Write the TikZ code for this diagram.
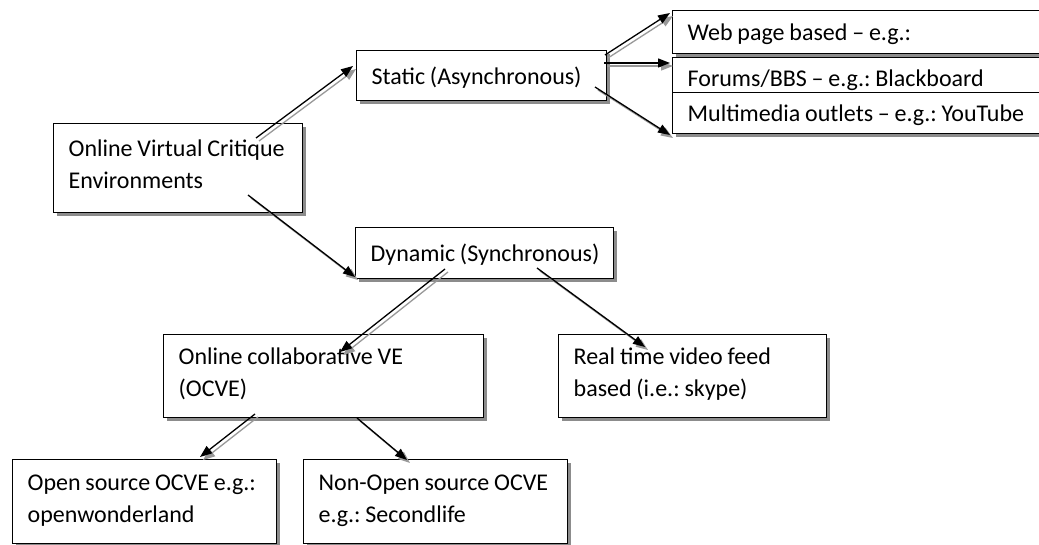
\documentclass[tikz,border=0pt]{standalone}
\usepackage{fontspec}
\setmainfont{Carlito}
\frenchspacing
\usetikzlibrary{arrows.meta,shadows,calc}
\newcommand{\firstst}{\rule{0pt}{17pt}}
\newcommand{\lastst}{\rule[-8pt]{0pt}{8pt}}
\newcommand{\tightsp}{\spaceskip=0.2em\relax}
\newcommand{\lineone}[1]{\mbox{\tightsp\firstst #1}}
\newcommand{\linetwo}[1]{\mbox{\tightsp #1\lastst}}
\newcommand{\oneline}[1]{\mbox{\tightsp #1}}
\begin{document}
\begin{tikzpicture}[x=1pt,y=-1pt,
  font=\fontsize{24}{32}\selectfont,
  boxbase/.style={draw=black, line width=1.3pt, fill=white, anchor=north west,
    inner xsep=15pt, inner ysep=0pt, align=left,
    drop shadow={shadow xshift=3pt, shadow yshift=-3pt, fill=black!45, opacity=1}},
  onebox/.style={boxbase, text height=17pt, text depth=0pt},
  twobox/.style={boxbase},
  arr/.style={line width=1.3pt, draw=black, -{Triangle[length=12pt,width=9pt]}},
  arrsh/.style={line width=1.3pt, draw=black!40, -{Triangle[length=12pt,width=9pt]}}]
\clip (0,0) rectangle (1039,545);
\fill[white] (0,0) rectangle (1039,545);

% boxes
\node[twobox, text width=219pt, minimum height=89pt] (root) at (53,123)
  {\lineone{Online Virtual Critique}\\\linetwo{Environments}};
\node[onebox, text width=220pt, minimum height=50pt] (static) at (356,50)
  {\oneline{Static (Asynchronous)}};
\node[onebox, text width=228pt, minimum height=51pt] (dyn) at (355,227)
  {\oneline{Dynamic (Synchronous)}};
\node[twobox, text width=290pt, minimum height=83pt] (ocve) at (163,334)
  {\lineone{Online collaborative VE}\\\linetwo{(OCVE)}};
\node[twobox, text width=238pt, minimum height=83pt] (real) at (558,334)
  {\lineone{Real time video feed}\\\linetwo{based (i.e.: skype)}};
\node[twobox, text width=234pt, minimum height=84pt] (open) at (12,459)
  {\lineone{Open source OCVE e.g.:}\\\linetwo{openwonderland}};
\node[twobox, text width=234pt, minimum height=84pt] (nonopen) at (303,459)
  {\lineone{Non-Open source OCVE}\\\linetwo{e.g.: Secondlife}};
\node[onebox, text width=360pt, minimum height=43pt] (web) at (672,10)
  {\oneline{Web page based – e.g.:}};
\node[onebox, text width=360pt, minimum height=41.5pt] (forums) at (672,57)
  {\oneline{Forums/BBS – e.g.: Blackboard}};
\node[onebox, text width=360pt, minimum height=41pt] (multi) at (672,92)
  {\oneline{Multimedia outlets – e.g.: YouTube}};

% connector end points
\coordinate (a1s) at (256,138); \coordinate (a1e) at (353,66);
\coordinate (a2s) at (248,195); \coordinate (a2e) at (355,277);
\coordinate (a3s) at (605,55);  \coordinate (a3e) at (670,13);
\coordinate (a4s) at (604,63);  \coordinate (a4e) at (670,63);
\coordinate (a5s) at (595,87);  \coordinate (a5e) at (670,135);
\coordinate (a6s) at (445,269); \coordinate (a6e) at (340,352);
\coordinate (a7s) at (537,268); \coordinate (a7e) at (645,347);
\coordinate (a8s) at (255,414); \coordinate (a8e) at (200,457);
\coordinate (a9s) at (357,418); \coordinate (a9e) at (407,460);

% shadows of connectors
\foreach \i in {1,...,9}
  \draw[arrsh] ($(a\i s)+(3,3)$) -- ($(a\i e)+(3,3)$);
% connectors
\foreach \i in {1,...,9}
  \draw[arr] (a\i s) -- (a\i e);
\end{tikzpicture}
\end{document}
